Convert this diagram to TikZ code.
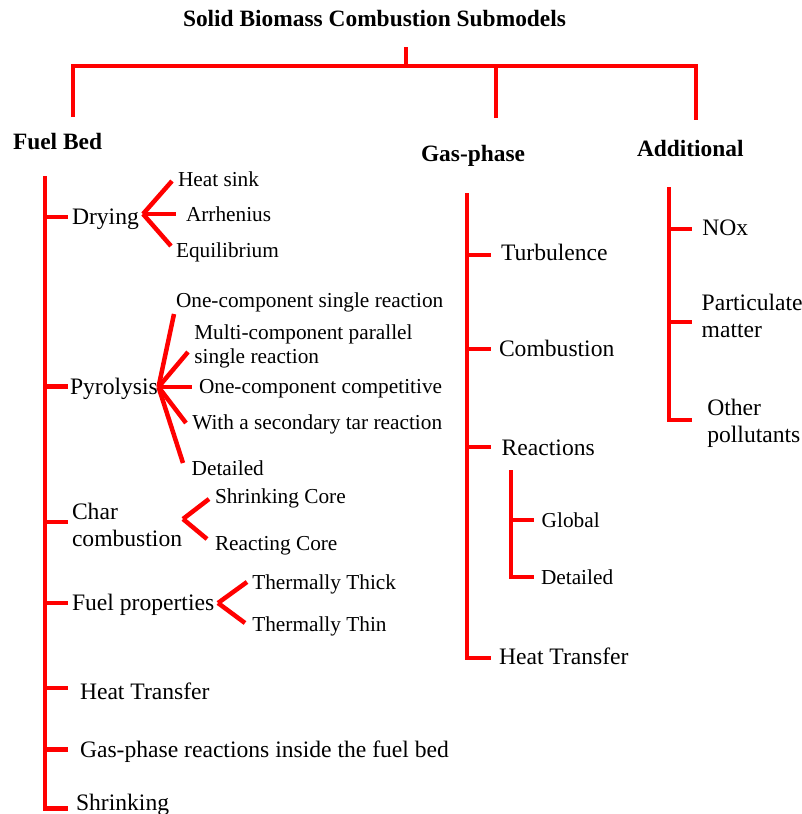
\documentclass[tikz,border=0pt]{standalone}
\usepackage{fontspec}
\setmainfont{Liberation Serif}
\begin{document}
\begin{tikzpicture}[x=1pt,y=-1pt,
  tree/.style={draw=red, line width=4.2pt, line join=miter},
  fan/.style={draw=red, line width=4.5pt},
  lab/.style={inner sep=0pt, outer sep=0pt, anchor=west},
  big/.style={lab, font=\rmfamily\fontsize{23.6pt}{27pt}\selectfont, text height=15.6pt, text depth=0pt},
  small/.style={lab, font=\rmfamily\fontsize{21.3pt}{23pt}\selectfont, text height=14.1pt, text depth=0pt},
  bigtwo/.style={lab, font=\rmfamily\fontsize{23.6pt}{27.5pt}\selectfont, align=left},
  smalltwo/.style={lab, font=\rmfamily\fontsize{21.3pt}{23.5pt}\selectfont, align=left},
  head/.style={inner sep=0pt, outer sep=0pt, anchor=base west, font=\rmfamily\bfseries\fontsize{23.4pt}{26pt}\selectfont}]
\useasboundingbox (0,0) rectangle (802,814);

% ---- title and the three groups ----
\node[head, anchor=base] (title) at (374.5,26.7) {Solid Biomass Combustion Submodels};
\node[head] (fuelbed) at (13,149.5) {Fuel Bed};
\node[head] (gasphase) at (421,161) {Gas-phase};
\node[head] (additional) at (637,156) {Additional};

\coordinate (stub) at (406,47);
\coordinate (hub) at (406,66);
\coordinate (fb-drop) at (73,117);
\coordinate (gp-drop) at (496,118);
\coordinate (ad-drop) at (696,120);
\draw[tree] (stub) -- (hub);
\draw[tree] (fb-drop) -- (fb-drop |- hub) -- (ad-drop |- hub) -- (ad-drop);
\draw[tree] (gp-drop) -- (gp-drop |- hub);

% ---- fuel bed ----
\node[big] (drying) at (72,217) {Drying};
\node[big] (pyro) at (70,386.5) {Pyrolysis};
\node[bigtwo] (char) at (72,525) {Char\\combustion};
\node[big] (fuelprop) at (72,603) {Fuel properties};
\node[big] (fbheat) at (80,691.5) {Heat Transfer};
\node[big] (fbgas) at (80,749.5) {Gas-phase reactions inside the fuel bed};
\node[big] (shrink) at (76,802.5) {Shrinking};

% branch ends, just left of each label
\coordinate (drying-in) at ([shift={(-3.7,0)}]drying.west);
\coordinate (pyro-in) at ([shift={(-1.7,0)}]pyro.west);
\coordinate (char-in) at ([shift={(-3.7,-2.7)}]char.west);
\coordinate (fuelprop-in) at ([shift={(-3.7,0)}]fuelprop.west);
\coordinate (fbheat-in) at ([shift={(-11.7,-3.5)}]fbheat.west);
\coordinate (fbgas-in) at ([shift={(-11.7,0)}]fbgas.west);
\coordinate (shrink-in) at ([shift={(-7.7,6)}]shrink.west);

\coordinate (fb-top) at (45,176);
\foreach \b in {drying,pyro,char,fuelprop,fbheat,fbgas}
  \draw[tree] (fb-top |- \b-in) -- (\b-in);
\draw[tree] (fb-top) |- (shrink-in);

% drying models
\node[small] (heatsink) at (178,179) {Heat sink};
\node[small] (arrh) at (186,214) {Arrhenius};
\node[small] (equil) at (176,250) {Equilibrium};
\coordinate (dry-fan) at (143,214);
\draw[fan] (dry-fan) -- ([shift={(-6,2)}]heatsink.west);
\draw[fan] (dry-fan) -- ([shift={(-10,0)}]arrh.west);
\draw[fan] (dry-fan) -- ([shift={(-5,-4)}]equil.west);

% pyrolysis models
\node[small] (ocsr) at (176,300) {One-component single reaction};
\node[smalltwo] (mcps) at (194.3,346.4) {Multi-component parallel\\single reaction};
\node[small] (occ) at (199,386) {One-component competitive};
\node[small] (tar) at (192.3,422) {With a secondary tar reaction};
\node[small] (pdet) at (191.7,468) {Detailed};
\coordinate (pyro-fan) at (158.5,387);
\draw[fan] (pyro-fan) -- ([shift={(-2,14)}]ocsr.west);
\draw[fan] (pyro-fan) -- ([shift={(-6.3,5.6)}]mcps.west);
\draw[fan] (pyro-fan) -- ([shift={(-7,1)}]occ.west);
\draw[fan] (pyro-fan) -- ([shift={(-6.3,1)}]tar.west);
\draw[fan] (pyro-fan) -- ([shift={(-8.7,-5)}]pdet.west);

% char combustion models
\node[small] (shcore) at (215,496) {Shrinking Core};
\node[small] (rccore) at (215,543.7) {Reacting Core};
\coordinate (char-fan) at (183,519);
\draw[fan] (char-fan) -- ([shift={(-6,3)}]shcore.west);
\draw[fan] (char-fan) -- ([shift={(-8,-4.7)}]rccore.west);

% fuel property models
\node[small] (thick) at (252.3,582.5) {Thermally Thick};
\node[small] (thin) at (252.3,624) {Thermally Thin};
\coordinate (prop-fan) at (218,603);
\draw[fan] (prop-fan) -- ([shift={(-5.3,-0.5)}]thick.west);
\draw[fan] (prop-fan) -- ([shift={(-7.3,-1)}]thin.west);

% ---- gas phase ----
\node[big] (turb) at (501,253) {Turbulence};
\node[big] (comb) at (499,348.3) {Combustion};
\node[big] (react) at (501.7,448) {Reactions};
\node[big] (gpheat) at (499,656.5) {Heat Transfer};
\coordinate (turb-in) at ([shift={(-10,2)}]turb.west);
\coordinate (comb-in) at ([shift={(-8,0.7)}]comb.west);
\coordinate (react-in) at ([shift={(-10.7,-1.3)}]react.west);
\coordinate (gpheat-in) at ([shift={(-8,1.8)}]gpheat.west);
\coordinate (gp-top) at (467,193);
\foreach \b in {turb,comb,react}
  \draw[tree] (gp-top |- \b-in) -- (\b-in);
\draw[tree] (gp-top) |- (gpheat-in);

\node[small] (global) at (541.7,520) {Global};
\node[small] (rdet) at (541,577) {Detailed};
\coordinate (global-in) at ([shift={(-7.7,0)}]global.west);
\coordinate (rdet-in) at ([shift={(-7,0)}]rdet.west);
\coordinate (rx-top) at (511,470);
\draw[tree] (rx-top |- global-in) -- (global-in);
\draw[tree] (rx-top) |- (rdet-in);

% ---- additional ----
\node[big] (nox) at (702.3,227.5) {NOx};
\node[bigtwo] (pm) at (701.7,316) {Particulate\\matter};
\node[bigtwo] (other) at (707.3,423.5) {Other\\pollutants};
\coordinate (nox-in) at ([shift={(-10,1.5)}]nox.west);
\coordinate (pm-in) at ([shift={(-9.4,6.3)}]pm.west);
\coordinate (other-in) at ([shift={(-15,-3.5)}]other.west);
\coordinate (ad-top) at (669,187.3);
\foreach \b in {nox,pm}
  \draw[tree] (ad-top |- \b-in) -- (\b-in);
\draw[tree] (ad-top) |- (other-in);
\end{tikzpicture}
\end{document}
